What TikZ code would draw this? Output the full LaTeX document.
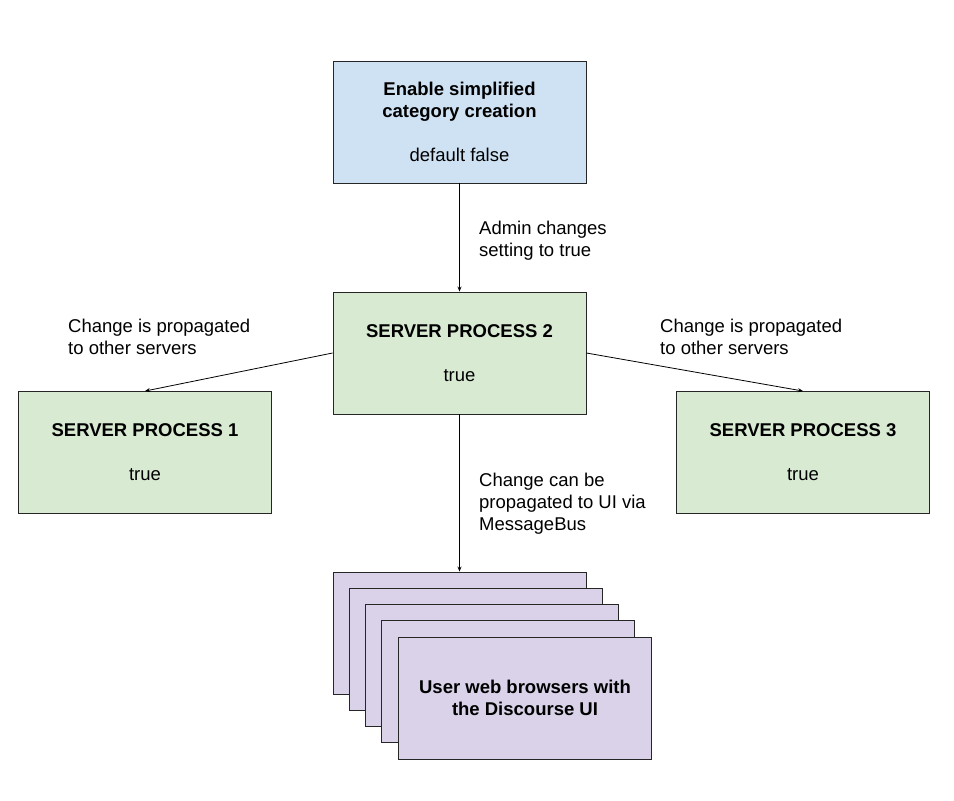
\documentclass[tikz,border=0pt]{standalone}
\usepackage{fontspec}
\setmainfont{Liberation Sans}
\usetikzlibrary{arrows.meta}
\definecolor{settingblue}{HTML}{CFE2F3}
\definecolor{servergreen}{HTML}{D9EAD3}
\definecolor{browserpurple}{HTML}{D9D2E9}
\begin{document}
\begin{tikzpicture}[x=1bp,y=-1bp,
  every node/.style={font=\fontsize{18.5bp}{22bp}\selectfont},
  box/.style={draw=black!85,line width=0.9bp,minimum width=253bp,minimum height=122bp,align=center,inner sep=0pt},
  note/.style={anchor=west,align=left,inner sep=0pt},
  link/.style={line width=0.8bp,-{Stealth[length=5bp,width=4bp]}}]
\useasboundingbox (0,0) rectangle (954,801);
% setting and servers
\node [box,fill=settingblue] (setting) at (459.5,122) {\textbf{Enable simplified}\\\textbf{category creation}\\[22bp]default false};
\node [box,fill=servergreen] (sp2) at (459.5,353) {\textbf{SERVER PROCESS 2}\\[22bp]true};
\node [box,fill=servergreen] (sp1) at (145,452.5) {\textbf{SERVER PROCESS 1}\\[22bp]true};
\node [box,fill=servergreen] (sp3) at (803,452.5) {\textbf{SERVER PROCESS 3}\\[22bp]true};
% stacked browsers
\node [box,fill=browserpurple] (ui1) at (459.5,633) {};
\node [box,fill=browserpurple] (ui2) at (476,649) {};
\node [box,fill=browserpurple] (ui3) at (492,665) {};
\node [box,fill=browserpurple] (ui4) at (508,681) {};
\node [box,fill=browserpurple] (ui5) at (525,698) {\textbf{User web browsers with}\\\textbf{the Discourse UI}};
% connectors
\draw [link] (setting.south) -- (sp2.north);
\draw [link] (sp2.west) -- (sp1.north);
\draw [link] (sp2.east) -- (sp3.north);
\draw [link] (sp2.south) -- (ui1.north);
% labels
\node [note] (admin) at (479,240.5) {Admin changes\\setting to true};
\node [note] (propleft) at (68,336.5) {Change is propagated\\to other servers};
\node [note] (propright) at (660,336.5) {Change is propagated\\to other servers};
\node [note] (bus) at (479,504) {Change can be\\propagated to UI via\\MessageBus};
\end{tikzpicture}
\end{document}
